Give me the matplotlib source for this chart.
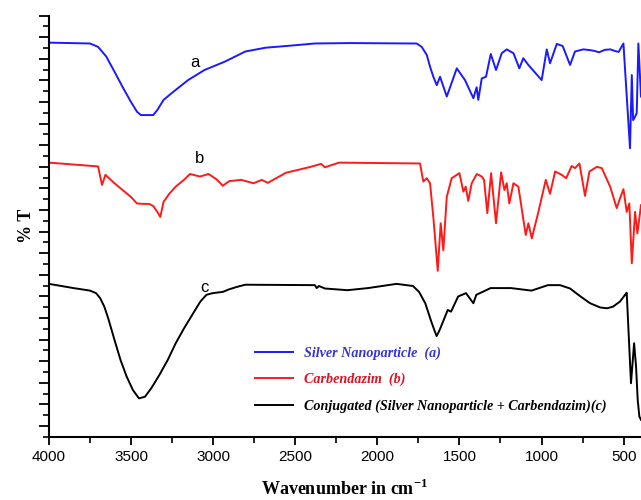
import numpy as np
import matplotlib
matplotlib.use("Agg")
import matplotlib.pyplot as plt
from matplotlib.lines import Line2D

plt.rcParams["axes.unicode_minus"] = False

# ---- data (wavenumber in cm-1, %T on an arbitrary offset scale) ----
silver_wn = [4000, 3750, 3701, 3651, 3601, 3552, 3502, 3464, 3440, 3365, 3340, 3302, 3253,
             3153, 3053, 2928, 2804, 2680, 2555, 2381, 2166, 1783, 1760, 1730, 1699, 1679,
             1659, 1638, 1618, 1577, 1516, 1466, 1415, 1395, 1385, 1364, 1338, 1309, 1277,
             1242, 1212, 1171, 1135, 1111, 1080, 999, 968, 948, 907, 871, 826, 796, 745,
             700, 674, 650, 613, 580, 552, 530, 501, 461, 450, 442, 430, 420, 410, 394]
silver_t = [93.6, 93.4, 92.6, 90.3, 86.7, 83.1, 79.6, 77.2, 76.4, 76.4, 77.6, 80.0, 81.6,
            84.7, 87.1, 89.1, 91.5, 92.4, 92.8, 93.4, 93.5, 93.4, 93.4, 92.6, 90.7, 87.9,
            85.5, 83.5, 85.5, 80.8, 87.5, 84.7, 80.4, 83.0, 80.0, 85.1, 85.5, 90.9, 87.1,
            91.1, 92.0, 91.1, 87.5, 89.9, 88.3, 84.7, 92.0, 88.7, 93.3, 92.8, 88.3, 91.5,
            92.0, 91.8, 91.6, 91.3, 91.9, 92.0, 91.6, 91.4, 93.4, 68.5, 85.9, 75.2, 76.0,
            76.9, 93.4, 80.8]

carb_wn = [4000, 3701, 3677, 3656, 3601, 3552, 3502, 3464, 3427, 3390, 3365, 3340, 3322,
           3302, 3265, 3228, 3178, 3141, 3080, 3028, 2978, 2941, 2903, 2830, 2754, 2704,
           2667, 2556, 2406, 2343, 2319, 2233, 1740, 1720, 1699, 1679, 1659, 1632, 1614,
           1598, 1577, 1547, 1500, 1476, 1462, 1446, 1425, 1394, 1364, 1350, 1330, 1307,
           1277, 1246, 1226, 1212, 1196, 1171, 1141, 1096, 1080, 1059, 1019, 974, 948, 917,
           877, 850, 816, 796, 769, 735, 708, 663, 633, 582, 542, 522, 501, 481, 465, 450,
           430, 416, 394]
carb_t = [65.1, 64.2, 59.8, 62.2, 60.2, 58.6, 57.0, 55.4, 55.3, 55.3, 54.8, 53.4, 52.2,
          55.8, 57.8, 59.4, 61.0, 62.4, 61.8, 62.4, 61.1, 59.6, 60.7, 61.0, 60.2, 61.0,
          60.3, 62.7, 64.1, 64.8, 64.0, 65.1, 64.9, 60.6, 61.4, 60.2, 52.2, 39.4, 50.7,
          44.3, 57.0, 61.4, 62.6, 58.2, 59.4, 56.0, 60.2, 62.4, 61.8, 61.0, 53.1, 62.6,
          50.7, 62.8, 58.6, 60.2, 55.4, 60.2, 59.4, 47.9, 50.7, 47.1, 53.4, 61.0, 57.7, 63.0,
          62.2, 61.4, 64.3, 63.8, 64.9, 57.2, 63.0, 64.1, 63.8, 59.4, 54.3, 56.6, 58.8, 53.4,
          55.4, 41.2, 53.4, 48.3, 55.0]

conj_wn = [4000, 3850, 3750, 3713, 3688, 3663, 3639, 3601, 3564, 3527, 3489, 3452, 3415,
           3377, 3327, 3277, 3228, 3178, 3128, 3078, 3041, 3003, 2941, 2903, 2854, 2804,
           2381, 2369, 2356, 2319, 2182, 2057, 1883, 1783, 1746, 1708, 1671, 1646, 1639,
           1621, 1596, 1571, 1551, 1508, 1460, 1415, 1397, 1310, 1186, 1061, 961, 887, 826,
           762, 704, 643, 601, 564, 522, 491, 481, 455, 436, 424, 414, 404, 394]
conj_t = [36.3, 35.3, 34.7, 34.1, 32.9, 30.9, 28.1, 23.0, 18.2, 14.3, 11.1, 9.1, 9.5,
          11.5, 14.7, 18.2, 22.2, 25.7, 28.9, 32.1, 33.7, 34.1, 34.4, 35.0, 35.6, 36.1,
          36.0, 35.3, 35.8, 35.2, 34.8, 35.3, 36.3, 35.8, 34.4, 31.7, 27.3, 24.6, 23.9,
          25.3, 27.7, 30.1, 29.7, 33.3, 34.1, 31.7, 33.7, 35.3, 35.3, 34.7, 36.0, 36.0, 35.2,
          33.3, 31.7, 30.7, 30.5, 30.9, 32.1, 33.7, 34.2, 12.7, 22.2, 16.6, 8.7, 4.8, 4.0]

series_names = ["Silver Nanoparticle  (a)", "Carbendazim  (b)",
                "Conjugated (Silver Nanoparticle + Carbendazim)(c)"]
curve_tags = ["a", "b", "c"]
tag_wn = [3111, 3080, 3056]
tag_t = [89.0, 66.0, 35.5]

line_colors = ["#1a1aff", "#ff1a1a", "#000000"]
text_colors = ["#3535d0", "#e01020", "#000000"]

fig = plt.figure(figsize=(6.41, 5.00), dpi=100)
ax = fig.add_axes([0.0764, 0.1266, 0.9236, 0.842])

ax.plot(silver_wn, silver_t, color=line_colors[0], lw=1.4)
ax.plot(carb_wn, carb_t, color=line_colors[1], lw=1.4)
ax.plot(conj_wn, conj_t, color=line_colors[2], lw=1.4)

for tag, x, y in zip(curve_tags, tag_wn, tag_t):
    ax.text(x, y, tag, fontsize=12, family="Liberation Sans", ha="center", va="center")

ax.set_xlim(4000, 394)
ax.set_ylim(0, 100)

# x ticks: majors every 500, minors every 250, pointing out
ax.set_xticks(np.arange(4000, 499, -500))
ax.set_xticks(np.arange(3750, 390, -500), minor=True)
ax.tick_params(axis="x", which="major", direction="out", length=6, width=1.3,
               labelsize=11)
ax.tick_params(axis="x", which="minor", direction="out", length=4, width=1.2)
for lab in ax.get_xticklabels():
    lab.set_family("Liberation Sans")

# y ticks: no labels, alternating long/short down from the top
ystep = 100 / 39
ax.set_yticks([100 - k * ystep for k in range(0, 40, 2)])
ax.set_yticks([100 - k * ystep for k in range(1, 40, 2)], minor=True)
ax.tick_params(axis="y", which="major", direction="out", length=7, width=1.3,
               labelleft=False)
ax.tick_params(axis="y", which="minor", direction="out", length=4, width=1.2)

for side in ["top", "right"]:
    ax.spines[side].set_visible(False)
for side in ["left", "bottom"]:
    ax.spines[side].set_linewidth(1.5)

ax.set_xlabel("Wavenumber in cm$^{\\mathregular{-1}}$", family="Liberation Serif",
              fontweight="bold", fontsize=13, labelpad=11)
ax.set_ylabel("% T", family="Liberation Serif", fontweight="bold", fontsize=13,
              labelpad=3)

handles = [Line2D([0], [0], color=c, lw=1.4) for c in line_colors]
leg = ax.legend(handles, series_names, loc="upper left", bbox_to_anchor=(0.326, 0.245),
                frameon=False, handlelength=2.7, handletextpad=0.8, labelspacing=0.93,
                prop={"family": "Liberation Serif", "weight": "bold", "style": "italic",
                      "size": 10.2})
for txt, c in zip(leg.get_texts(), text_colors):
    txt.set_color(c)

fig.savefig("out.png", dpi=100)
